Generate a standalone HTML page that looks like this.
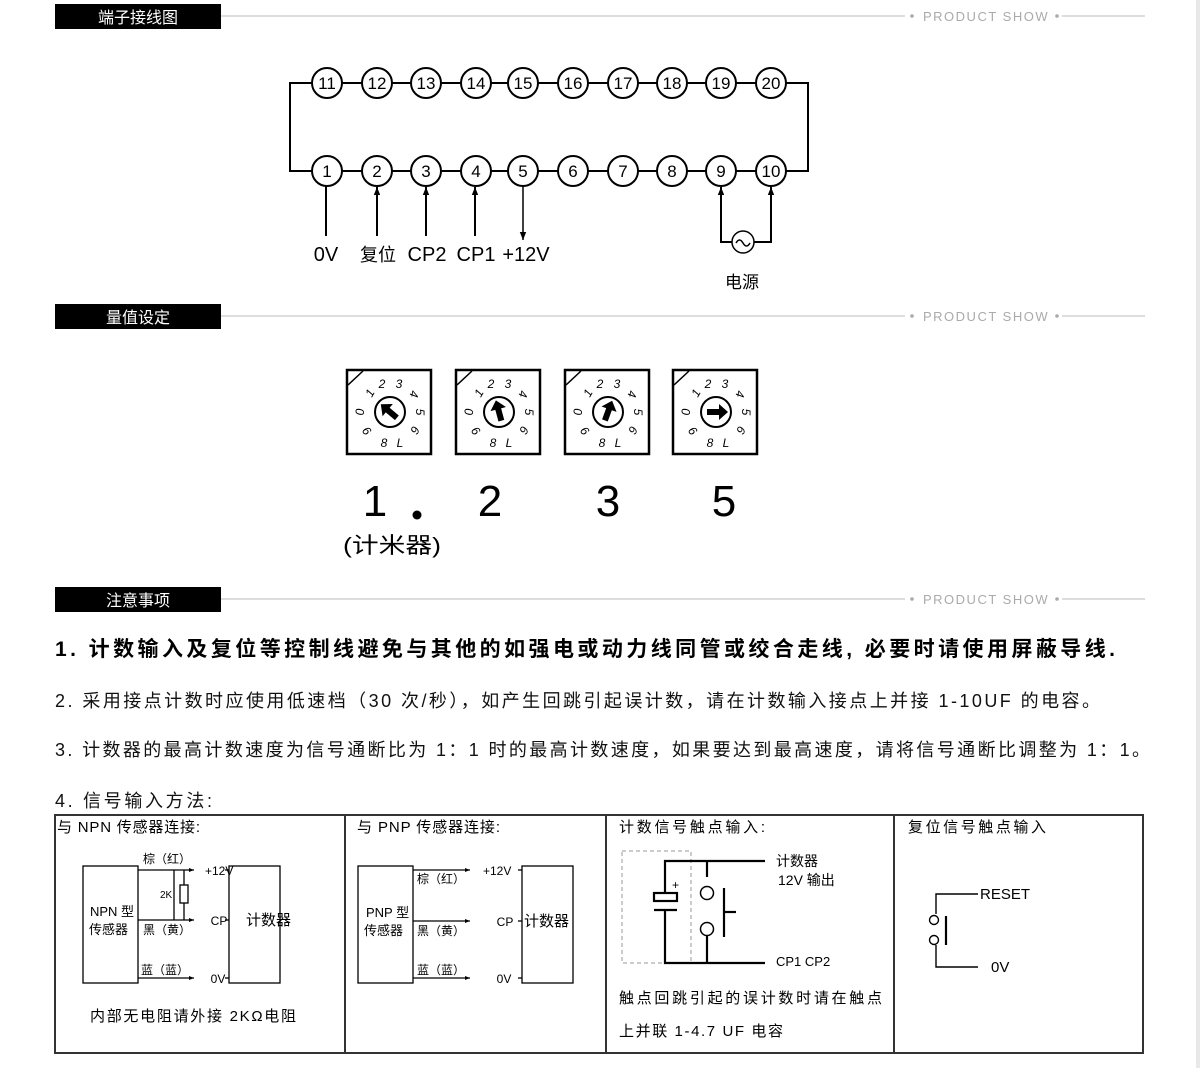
<!DOCTYPE html>
<html><head><meta charset="utf-8"><style>
html,body{margin:0;padding:0;background:#fff;}
svg{display:block;}
text{font-family:"Liberation Sans","Noto Sans CJK SC",sans-serif;}
</style></head><body>
<svg width="1200" height="1068" viewBox="0 0 1200 1068" xmlns="http://www.w3.org/2000/svg">
<rect x="1196" y="0" width="4" height="1068" fill="#e8e8e8"/>
<defs>
<marker id="ar" viewBox="0 0 10 10" refX="10" refY="5" markerWidth="8" markerHeight="13" orient="auto" markerUnits="userSpaceOnUse"><path d="M0,1 L10,5 L0,9 z" fill="#000"/></marker>
<marker id="as" viewBox="0 0 10 10" refX="10" refY="5" markerWidth="7" markerHeight="5" orient="auto" markerUnits="userSpaceOnUse"><path d="M0,1 L10,5 L0,9 z" fill="#000"/></marker>
<g id="hdr">
<line x1="221" y1="0" x2="905" y2="0" stroke="#bbb" stroke-width="1"/>
<circle cx="912" cy="0" r="1.8" fill="#aaa"/>
<text x="923" y="5" font-size="13" fill="#aaa" letter-spacing="1.5">PRODUCT SHOW</text>
<circle cx="1057" cy="0" r="1.8" fill="#aaa"/>
<line x1="1062" y1="0" x2="1145" y2="0" stroke="#bbb" stroke-width="1"/>
</g>
</defs>
<rect x="55" y="4" width="166" height="25" fill="#000"/>
<text x="138" y="23" font-size="16" fill="#fff" text-anchor="middle">端子接线图</text>
<use href="#hdr" y="16"/>
<rect x="55" y="304" width="166" height="25" fill="#000"/>
<text x="138" y="323" font-size="16" fill="#fff" text-anchor="middle">量值设定</text>
<use href="#hdr" y="316"/>
<rect x="55" y="587" width="166" height="25" fill="#000"/>
<text x="138" y="606" font-size="16" fill="#fff" text-anchor="middle">注意事项</text>
<use href="#hdr" y="599"/>

<g stroke="#000" stroke-width="2" fill="none">
<polyline points="312,83 290,83 290,171 312,171"/>
<polyline points="786,83 808,83 808,171 786,171"/>
<line x1="342" y1="83" x2="756" y2="83"/>
<line x1="342" y1="171" x2="756" y2="171"/>
</g>
<g stroke="#000" stroke-width="2" fill="#fff">
<circle cx="327" cy="83" r="15"/><circle cx="377" cy="83" r="15"/><circle cx="426" cy="83" r="15"/><circle cx="476" cy="83" r="15"/><circle cx="523" cy="83" r="15"/><circle cx="573" cy="83" r="15"/><circle cx="623" cy="83" r="15"/><circle cx="672" cy="83" r="15"/><circle cx="721" cy="83" r="15"/><circle cx="771" cy="83" r="15"/>
<circle cx="327" cy="171" r="15"/><circle cx="377" cy="171" r="15"/><circle cx="426" cy="171" r="15"/><circle cx="476" cy="171" r="15"/><circle cx="523" cy="171" r="15"/><circle cx="573" cy="171" r="15"/><circle cx="623" cy="171" r="15"/><circle cx="672" cy="171" r="15"/><circle cx="721" cy="171" r="15"/><circle cx="771" cy="171" r="15"/>
</g>
<g font-size="17" text-anchor="middle" fill="#000">
<text x="327" y="89">11</text><text x="377" y="89">12</text><text x="426" y="89">13</text><text x="476" y="89">14</text><text x="523" y="89">15</text><text x="573" y="89">16</text><text x="623" y="89">17</text><text x="672" y="89">18</text><text x="721" y="89">19</text><text x="771" y="89">20</text>
<text x="327" y="177">1</text><text x="377" y="177">2</text><text x="426" y="177">3</text><text x="476" y="177">4</text><text x="523" y="177">5</text><text x="573" y="177">6</text><text x="623" y="177">7</text><text x="672" y="177">8</text><text x="721" y="177">9</text><text x="771" y="177">10</text>
</g>
<g stroke="#000" stroke-width="2" fill="none">
<line x1="326" y1="186" x2="326" y2="236"/>
<line x1="377" y1="236" x2="377" y2="187" marker-end="url(#ar)"/>
<line x1="426" y1="236" x2="426" y2="187" marker-end="url(#ar)"/>
<line x1="475" y1="236" x2="475" y2="187" marker-end="url(#ar)"/>
<line x1="523" y1="186" x2="523" y2="240" stroke-width="1.5" marker-end="url(#ar)"/>
<polyline points="732,242 721,242 721,187" marker-end="url(#ar)"/>
<polyline points="754,242 771,242 771,187" marker-end="url(#ar)"/>
<circle cx="743" cy="242" r="11" stroke-width="1.5"/>
<path d="M736,243 q3.5,-6 7,0 q3.5,6 7,0" stroke-width="1.5"/>
</g>
<g font-size="20" text-anchor="middle" fill="#000">
<text x="326" y="261">0V</text><text x="378" y="261" font-size="18">复位</text><text x="427" y="261">CP2</text><text x="476" y="261">CP1</text><text x="526" y="261">+12V</text>
<text x="742" y="288" font-size="17">电源</text>
</g>

<defs>
<g id="dial">
<rect x="0" y="0" width="84" height="84" fill="#fff" stroke="#000" stroke-width="2.5"/>
<line x1="1" y1="15" x2="16" y2="1" stroke="#000" stroke-width="1.5"/>
<circle cx="43" cy="42" r="15" fill="#fff" stroke="#000" stroke-width="2"/>
<g font-size="12" font-style="italic" fill="#000" text-anchor="middle">
<text x="35" y="18">2</text><text x="52" y="18">3</text>
<text x="23" y="27" transform="rotate(-60 23 23)">1</text>
<text x="67" y="28" transform="rotate(100 67 24)">4</text>
<text x="13" y="46" transform="rotate(-90 13 42)">0</text>
<text x="73" y="46" transform="rotate(90 73 42)">5</text>
<text x="20" y="65" transform="rotate(-130 20 61)">9</text>
<text x="68" y="64" transform="rotate(120 68 60)">6</text>
<text x="37" y="77">8</text><text x="53" y="77">L</text>
</g>
</g>
<path id="arw" d="M-9,-3 L3,-3 L3,-8 L12,0 L3,8 L3,3 L-9,3 z" fill="#000"/>
</defs>
<use href="#dial" x="347" y="370"/>
<use href="#dial" x="456" y="370"/>
<use href="#dial" x="565" y="370"/>
<use href="#dial" x="673" y="370"/>
<use href="#arw" transform="translate(390,412) rotate(-140)"/>
<use href="#arw" transform="translate(499,412) rotate(-105)"/>
<use href="#arw" transform="translate(608,412) rotate(-70)"/>
<use href="#arw" transform="translate(716,412)"/>
<g font-size="44" fill="#000" text-anchor="middle">
<text x="375" y="516">1</text><text x="490" y="516">2</text><text x="608" y="516">3</text><text x="724" y="516">5</text>
</g>
<circle cx="417" cy="515" r="4.5" fill="#000"/>
<text x="343" y="553" font-size="22" fill="#000" textLength="98" lengthAdjust="spacingAndGlyphs">(计米器)</text>

<text x="55" y="656" font-size="21" font-weight="bold" fill="#000" textLength="1060" lengthAdjust="spacing">1. 计数输入及复位等控制线避免与其他的如强电或动力线同管或绞合走线, 必要时请使用屏蔽导线.</text>
<text x="55" y="707" font-size="18" fill="#111" textLength="1045" lengthAdjust="spacing">2. 采用接点计数时应使用低速档（30 次/秒），如产生回跳引起误计数，请在计数输入接点上并接 1-10UF 的电容。</text>
<text x="55" y="756" font-size="18" fill="#111" textLength="1095" lengthAdjust="spacing">3. 计数器的最高计数速度为信号通断比为 1：1 时的最高计数速度，如果要达到最高速度，请将信号通断比调整为 1：1。</text>
<text x="55" y="807" font-size="18" fill="#111" textLength="157" lengthAdjust="spacing">4. 信号输入方法:</text>

<g stroke="#333" stroke-width="2" fill="none">
<rect x="55" y="815" width="1088" height="238"/>
<line x1="345" y1="815" x2="345" y2="1053"/>
<line x1="606" y1="815" x2="606" y2="1053"/>
<line x1="894" y1="815" x2="894" y2="1053"/>
</g>
<g font-size="15" fill="#000">
<text x="57" y="832" textLength="143" lengthAdjust="spacing">与 NPN 传感器连接:</text>
<text x="357" y="832" textLength="143" lengthAdjust="spacing">与 PNP 传感器连接:</text>
<text x="619" y="832" textLength="146" lengthAdjust="spacing">计数信号触点输入:</text>
<text x="908" y="832" textLength="138" lengthAdjust="spacing">复位信号触点输入</text>
</g>
<g stroke="#000" stroke-width="1.3" fill="none">
<rect x="83" y="866" width="55" height="117"/>
<rect x="229" y="866" width="51" height="117"/>
<line x1="138" y1="870" x2="194" y2="870" marker-end="url(#as)"/>
<line x1="138" y1="920" x2="194" y2="920" marker-end="url(#as)"/>
<line x1="138" y1="978" x2="194" y2="978" marker-end="url(#as)"/>
<line x1="174" y1="870" x2="174" y2="920"/>
<rect x="180" y="885" width="8" height="18" fill="#fff"/>
<line x1="184" y1="870" x2="184" y2="885"/><line x1="184" y1="903" x2="184" y2="920"/>
<line x1="225" y1="870" x2="229" y2="870"/><line x1="225" y1="920" x2="229" y2="920"/><line x1="225" y1="978" x2="229" y2="978"/>
</g>
<g fill="#000" font-size="12">
<text x="143" y="863">棕（红）</text><text x="143" y="934">黑（黄）</text><text x="141" y="974">蓝（蓝）</text>
<text x="160" y="898" font-size="10">2K</text>
<text x="205" y="875">+12V</text><text x="219" y="925" text-anchor="middle">CP</text><text x="218" y="983" text-anchor="middle">0V</text>
<text x="90" y="916" font-size="13">NPN 型</text><text x="89" y="934" font-size="13">传感器</text>
<text x="246" y="925" font-size="15">计数器</text>
<text x="90" y="1021" font-size="15" textLength="206" lengthAdjust="spacing">内部无电阻请外接 2KΩ电阻</text>
</g>
<g stroke="#000" stroke-width="1.3" fill="none">
<rect x="358" y="866" width="55" height="117"/>
<rect x="522" y="866" width="51" height="117"/>
<line x1="413" y1="870" x2="470" y2="870" marker-end="url(#as)"/>
<line x1="413" y1="921" x2="470" y2="921" marker-end="url(#as)"/>
<line x1="413" y1="978" x2="470" y2="978" marker-end="url(#as)"/>
<line x1="518" y1="870" x2="522" y2="870"/><line x1="518" y1="921" x2="522" y2="921"/><line x1="518" y1="978" x2="522" y2="978"/>
</g>
<g fill="#000" font-size="12">
<text x="417" y="883">棕（红）</text><text x="417" y="935">黑（黄）</text><text x="417" y="974">蓝（蓝）</text>
<text x="483" y="875">+12V</text><text x="505" y="926" text-anchor="middle">CP</text><text x="504" y="983" text-anchor="middle">0V</text>
<text x="366" y="917" font-size="13">PNP 型</text><text x="364" y="935" font-size="13">传感器</text>
<text x="524" y="926" font-size="15">计数器</text>
</g>
<rect x="622" y="851" width="69" height="112" fill="none" stroke="#999" stroke-width="1" stroke-dasharray="4,3"/>
<g stroke="#000" stroke-width="2.2" fill="none">
<polyline points="765,861 665,861 665,893"/>
<polyline points="665,911 665,963 765,963"/>
<rect x="654" y="893" width="23" height="8"/>
<line x1="654" y1="910" x2="677" y2="910"/>
<line x1="707" y1="861" x2="707" y2="877"/>
<circle cx="707" cy="893" r="6.5" stroke-width="1.5"/>
<circle cx="707" cy="929" r="6.5" stroke-width="1.5"/>
<line x1="707" y1="936" x2="707" y2="963"/>
<line x1="724" y1="888" x2="724" y2="937"/>
<line x1="724" y1="912" x2="736" y2="912"/>
</g>
<g fill="#000">
<text x="672" y="889" font-size="12">+</text>
<text x="776" y="866" font-size="14">计数器</text>
<text x="778" y="885" font-size="14">12V 输出</text>
<text x="776" y="966" font-size="13">CP1  CP2</text>
<text x="619" y="1003" font-size="15" textLength="263" lengthAdjust="spacing">触点回跳引起的误计数时请在触点</text>
<text x="619" y="1036" font-size="15" textLength="164" lengthAdjust="spacing">上并联 1-4.7 UF 电容</text>
</g>
<g stroke="#000" stroke-width="1.4" fill="none">
<polyline points="978,894 936,894 936,914"/>
<circle cx="934" cy="920" r="4.5"/>
<circle cx="934" cy="940" r="4.5"/>
<polyline points="936,945 936,967 978,967"/>
<line x1="946" y1="916" x2="946" y2="945" stroke-width="2.2"/>
</g>
<g fill="#000" font-size="15">
<text x="980" y="899">RESET</text>
<text x="991" y="972">0V</text>
</g>
</svg>
</body></html>
